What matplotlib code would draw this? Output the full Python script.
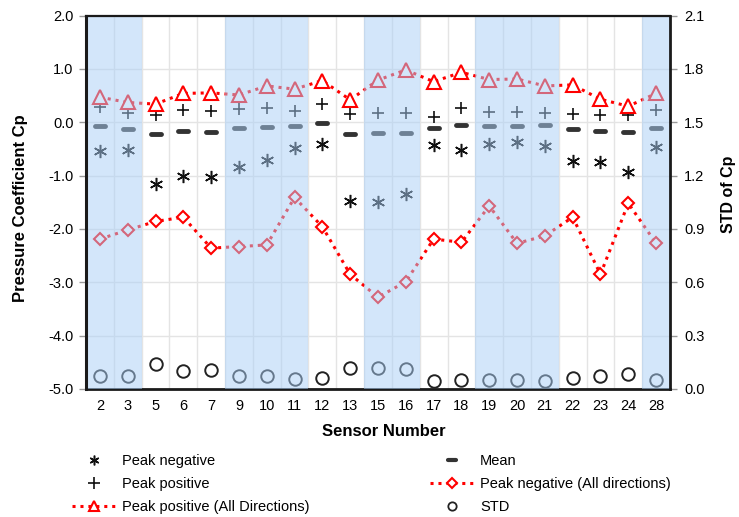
import matplotlib
matplotlib.use("Agg")
import matplotlib.pyplot as plt
from matplotlib.markers import MarkerStyle
from matplotlib.lines import Line2D
import numpy as np

plt.rcParams['font.family'] = ['Liberation Sans', 'DejaVu Sans']

sensors = ["2", "3", "5", "6", "7", "9", "10", "11", "12", "13", "15",
           "16", "17", "18", "19", "20", "21", "22", "23", "24", "28"]

peak_negative = [-0.54, -0.52, -1.16, -1.00, -1.03, -0.83, -0.71, -0.48, -0.41, -1.47, -1.49,
                 -1.35, -0.43, -0.53, -0.41, -0.38, -0.44, -0.72, -0.75, -0.94, -0.47]
peak_positive = [0.29, 0.17, 0.135, 0.23, 0.21, 0.25, 0.26, 0.21, 0.35, 0.15, 0.17,
                 0.17, 0.10, 0.27, 0.20, 0.19, 0.17, 0.15, 0.135, 0.135, 0.23]
mean_cp = [-0.08, -0.13, -0.23, -0.165, -0.18, -0.115, -0.09, -0.08, -0.02, -0.23, -0.20,
           -0.20, -0.10, -0.06, -0.07, -0.07, -0.06, -0.13, -0.16, -0.19, -0.10]
peak_pos_all = [0.47, 0.37, 0.34, 0.54, 0.55, 0.51, 0.68, 0.62, 0.78, 0.42, 0.79,
                0.98, 0.76, 0.935, 0.80, 0.81, 0.68, 0.70, 0.43, 0.30, 0.54]
peak_neg_all = [-2.19, -2.02, -1.86, -1.78, -2.36, -2.33, -2.30, -1.41, -1.96, -2.85, -3.28,
                -2.99, -2.19, -2.25, -1.57, -2.27, -2.13, -1.78, -2.85, -1.52, -2.27]
std_cp = [0.073, 0.073, 0.139, 0.100, 0.109, 0.075, 0.072, 0.055, 0.064, 0.120, 0.116,
          0.110, 0.045, 0.051, 0.051, 0.050, 0.045, 0.064, 0.072, 0.083, 0.051]

# groups of sensors highlighted with a blue band (index ranges)
shaded_groups = [(0, 1), (5, 7), (10, 11), (14, 16), (20, 20)]

cp_ticks = [2.0, 1.0, 0.0, -1.0, -2.0, -3.0, -4.0, -5.0]
std_ticks = [0.0, 0.3, 0.6, 0.9, 1.2, 1.5, 1.8, 2.1]

x = np.arange(len(sensors))
red = "#ff0000"
fs = 10.5

fig = plt.figure(figsize=(7.39, 5.17), dpi=100)
ax = fig.add_axes([86 / 739, 1 - 389 / 517, 584 / 739, (389 - 15.5) / 517])
ax2 = ax.twinx()

ax.set_xlim(-0.5, len(sensors) - 0.5)
ax.set_ylim(-5.0, 2.0)
ax2.set_ylim(0.0, 2.1)

# grid: horizontal at Cp ticks, vertical between sensors
ax.set_yticks(cp_ticks)
ax.set_yticklabels([f"{t:.1f}" for t in cp_ticks], fontsize=fs)
ax.set_xticks(x)
ax.set_xticklabels(sensors, fontsize=fs)
ax.set_xticks(x[:-1] + 0.5, minor=True)
ax.grid(True, axis="y", which="major", color="#e4e4e4", lw=1.0)
ax.grid(True, axis="x", which="minor", color="#e4e4e4", lw=1.0)
ax.tick_params(axis="x", which="both", length=0, pad=7)
ax.tick_params(axis="y", which="major", length=5, width=1, color="#999999", pad=4,
               direction="out")
ax.set_axisbelow(True)

ax2.set_yticks(std_ticks)
ax2.set_yticklabels([f"{t:.1f}" for t in std_ticks], fontsize=fs)
ax2.tick_params(axis="y", length=5, width=1, color="#999999", pad=5, direction="out")

ms_star = MarkerStyle((6, 2, 0))
ms_mean = MarkerStyle("_", capstyle="round")

ax.plot(x, peak_negative, ls="none", marker=ms_star, ms=9.5, mew=1.1, color="#111111",
        zorder=3)
ax.plot(x, peak_positive, ls="none", marker="+", ms=9, mew=1.2, color="#111111",
        zorder=3)
ax.plot(x, mean_cp, ls="none", marker=ms_mean, ms=7, mew=3.5, color="#333333",
        zorder=3)
ax.plot(x, peak_pos_all, ls=(0, (1, 1.6)), lw=2.2, color=red, marker="^", ms=9.5,
        mfc="white", mec=red, mew=1.5, zorder=4)
ax.plot(x, peak_neg_all, ls=(0, (1, 1.6)), lw=2.2, color=red, marker="D", ms=6.5,
        mfc="white", mec=red, mew=1.5, zorder=4)
ax2.plot(x, std_cp, ls="none", marker="o", ms=9, mfc="none", mec="#222222", mew=1.4,
         zorder=3)

# translucent bands over the highlighted sensor groups
for a, b in shaded_groups:
    ax2.axvspan(a - 0.5, b + 0.5, color="#a9cff7", alpha=0.5, lw=0, zorder=10)

for axis in (ax, ax2):
    for s in axis.spines.values():
        s.set_visible(False)
for side, lw in (("left", 2.2), ("right", 2.0), ("top", 1.6), ("bottom", 2.0)):
    sp = ax2.spines[side]
    sp.set_visible(True)
    sp.set_linewidth(lw)
    sp.set_color("#1a1a1a")
    sp.set_zorder(11 if side != "bottom" else 2.5)

ax.set_ylabel("Pressure Coefficient Cp", fontsize=12, fontweight="bold")
ax.yaxis.set_label_coords(-0.099, 0.485)
ax2.set_ylabel("STD of Cp", fontsize=11.5, fontweight="bold")
ax2.yaxis.set_label_coords(1.087, 0.52)
ax.set_xlabel("Sensor Number", fontsize=12, fontweight="bold")
ax.xaxis.set_label_coords(0.51, -0.095)

handles = [
    Line2D([], [], ls="none", marker=ms_star, ms=7, mew=1.1, color="#111111"),
    Line2D([], [], ls="none", marker="+", ms=8, mew=1.2, color="#111111"),
    Line2D([], [], ls=(0, (1, 1.6)), lw=2.2, color=red, marker="^", ms=7,
           mfc="white", mec=red, mew=1.5),
    Line2D([], [], ls="none", marker=ms_mean, ms=6, mew=3, color="#333333"),
    Line2D([], [], ls=(0, (1, 1.6)), lw=2.2, color=red, marker="D", ms=5.5,
           mfc="white", mec=red, mew=1.5),
    Line2D([], [], ls="none", marker="o", ms=6, mfc="none", mec="#222222", mew=1.3),
]
labels = ["Peak negative", "Peak positive", "Peak positive (All Directions)",
          "Mean", "Peak negative (All directions)", "STD"]
fig.legend(handles, labels, ncol=2, loc="upper left",
           bbox_to_anchor=(65 / 739, 1 - 447 / 517), frameon=False, fontsize=fs,
           handlelength=3.0, handletextpad=0.4, columnspacing=8.3, labelspacing=0.62,
           borderpad=0, numpoints=1)

fig.savefig("out.png", dpi=100)
